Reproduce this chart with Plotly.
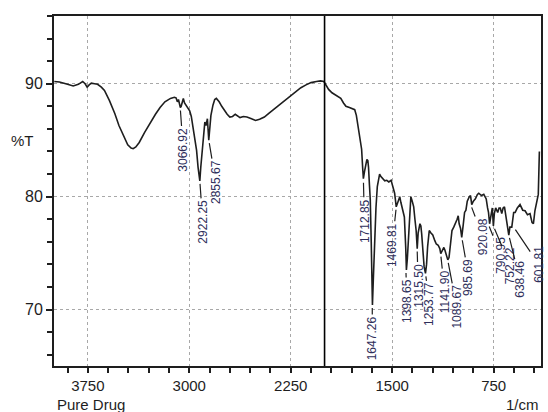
import plotly.graph_objects as go

# FTIR spectrum of the pure drug (wavenumber in 1/cm, transmittance in %T)
wavenumber = [
    3998, 3960, 3900, 3858, 3820, 3788, 3770, 3755, 3740, 3724, 3700, 3678, 3650, 3627,
    3590, 3550, 3520, 3485, 3455, 3430, 3415, 3395, 3370, 3330, 3293, 3250, 3216, 3180,
    3139, 3110, 3098, 3088, 3080, 3072, 3066, 3060, 3050, 3044, 3035, 3023, 3010, 2997,
    2985, 2972, 2958, 2946, 2935, 2922, 2915, 2905, 2895, 2885, 2876, 2866, 2856, 2848,
    2840, 2825, 2812, 2800, 2779, 2760, 2740, 2720, 2700, 2680, 2660, 2640, 2625, 2600,
    2574, 2540, 2510, 2480, 2445, 2410, 2368, 2330, 2291, 2250, 2214, 2175, 2137, 2100,
    2060, 2030, 2005, 1985, 1970, 1945, 1919, 1900, 1880, 1860, 1842, 1816, 1790, 1777,
    1765, 1752, 1739, 1726, 1718, 1713, 1705, 1695, 1687, 1680, 1675, 1668, 1662, 1655,
    1648, 1646, 1640, 1634, 1628, 1620, 1610, 1600, 1593, 1585, 1572, 1555, 1540, 1525,
    1508, 1495, 1482, 1470, 1462, 1457, 1444, 1436, 1431, 1420, 1410, 1400, 1395, 1388,
    1380, 1370, 1362, 1352, 1341, 1332, 1323, 1315, 1308, 1295, 1288, 1282, 1272, 1264,
    1254, 1246, 1238, 1226, 1215, 1200, 1185, 1174, 1160, 1148, 1141, 1128, 1118, 1110,
    1100, 1089, 1080, 1070, 1058, 1045, 1033, 1020, 1012, 1005, 995, 986, 975, 965,
    955, 945, 930, 921, 912, 900, 885, 870, 860, 840, 823, 805, 795, 788, 780, 770,
    760, 752, 745, 735, 720, 710, 701, 690, 680, 670, 660, 650, 638, 630, 616, 602,
    591, 575, 555, 535, 518, 500, 481, 466, 456, 445, 432, 420, 412, 403,
]
transmittance = [
    90.2, 90.15, 89.95, 89.8, 89.95, 90.2, 90.0, 89.7, 89.9, 90.05, 90.0, 89.95, 89.7, 89.4,
    88.5, 87.35, 86.3, 85.3, 84.6, 84.3, 84.25, 84.4, 84.8, 85.7, 86.5, 87.3, 87.9, 88.4,
    88.7, 88.8, 88.75, 88.4, 88.6, 88.1, 87.9, 88.0, 88.6, 88.7, 88.3, 88.1, 87.9, 87.6,
    87.1, 86.2, 85.2, 84.1, 82.6, 81.4, 82.6, 84.2, 85.6, 86.6, 86.3, 86.9, 85.0, 86.0,
    87.2, 88.1, 88.6, 88.7, 88.4, 88.0, 87.6, 87.3, 87.05, 87.1, 87.3, 87.1, 87.0, 87.1,
    87.05, 86.9, 86.75, 86.85, 87.05, 87.4, 87.8, 88.2, 88.6, 89.0, 89.35, 89.65, 89.9, 90.1,
    90.2, 90.25, 90.2, 89.85, 89.5, 89.2, 89.0, 88.85, 88.7, 88.3, 88.0, 87.9, 87.8, 87.7,
    87.2, 86.3, 85.3, 84.2, 82.5, 81.6, 82.2, 82.9, 83.3, 83.2, 82.6, 81.0, 79.7, 76.0,
    71.5, 70.4, 72.5, 75.0, 76.7, 79.0, 80.9, 81.7, 82.0, 81.8, 81.6, 81.4, 81.45, 81.3,
    81.45, 80.9, 80.3, 79.1, 79.4, 79.55, 80.0, 79.5, 79.2, 78.6, 78.2, 75.5, 73.5, 74.5,
    76.1, 78.5, 80.0, 79.6, 79.1, 78.0, 77.0, 75.4, 76.8, 77.6, 77.4, 76.7, 75.0, 73.8,
    73.2, 74.0, 75.6, 77.0, 76.8, 76.6, 76.1, 75.8, 75.7, 75.4, 74.95, 75.3, 75.5, 75.25,
    74.8, 74.4, 74.6, 76.0, 77.0, 77.3, 77.6, 78.0, 78.3, 77.6, 77.2, 76.4, 77.5, 78.6,
    78.8, 79.6, 80.0, 80.1, 79.3, 79.6, 79.8, 80.2, 80.3, 80.1, 80.2, 79.8, 79.0, 78.6,
    77.6, 78.5, 79.0, 77.4, 78.5, 79.0, 78.6, 79.0, 79.0, 78.5, 79.0, 79.1, 78.3, 77.5,
    76.6, 77.3, 77.3, 78.6, 78.6, 79.0, 79.3, 78.8, 78.75, 78.4, 78.5, 77.7, 77.6, 78.75,
    79.6, 80.2, 84.0,
]

# Labelled absorption peaks
peak_wn = [3066.92, 2922.25, 2855.67, 1712.85, 1647.26, 1469.81, 1398.65, 1315.50,
           1253.77, 1141.90, 1089.67, 985.69, 920.08, 790.95, 752.22, 638.46, 601.81]
peak_t = [87.9, 81.4, 85.0, 81.5, 70.4, 79.1, 73.5, 75.4,
          73.2, 74.95, 74.4, 76.4, 79.3, 77.6, 77.4, 76.6, 77.3]
peak_text = ["3066.92", "2922.25", "2855.67", "1712.85", "1647.26", "1469.81", "1398.65",
             "1315.50", "1253.77", "1141.90", "1089.67", "985.69", "920.08", "790.95",
             "752.22", "638.46", "601.81"]
# label offsets from the peak tip, in pixels (dx, dy)
label_offset = [(3, 42), (3, 41), (7, 42), (1, 41), (0, 33), (-4, 38), (1, 31), (1, 37),
                (4, 31), (4, 38), (9, 47), (7, 40), (12, 32), (13, 32), (17, 40), (11, 44),
                (25, 37)]

x_major = [3750, 3000, 2250, 1500, 750]
y_major = [70, 80, 90]

INK = "#1e1e1e"
LABEL_INK = "#2e2e5a"
FONT = "Liberation Sans, Arial, sans-serif"

fig = go.Figure()
fig.add_trace(go.Scatter(
    x=wavenumber, y=transmittance, mode="lines",
    line=dict(color=INK, width=1.6), hoverinfo="skip", showlegend=False,
))

# divider line at 2000 1/cm
fig.add_shape(type="line", xref="x", yref="paper", x0=2000, x1=2000, y0=0, y1=1,
              line=dict(color="black", width=1.6))

for wn, t, txt, (dx, dy) in zip(peak_wn, peak_t, peak_text, label_offset):
    fig.add_annotation(
        x=wn, y=t, xref="x", yref="y", text=txt, textangle=-90,
        showarrow=True, arrowhead=0, arrowwidth=1.2, arrowcolor=INK,
        ax=dx, ay=dy, standoff=3,
        font=dict(family=FONT, size=12, color=LABEL_INK),
    )

fig.add_annotation(x=0, y=0, xref="paper", yref="paper", xanchor="left", yanchor="top",
                   xshift=1, yshift=-28, text="Pure Drug", showarrow=False,
                   font=dict(family=FONT, size=15, color=INK))
fig.add_annotation(x=1, y=0, xref="paper", yref="paper", xanchor="right", yanchor="top",
                   yshift=-28, text="1/cm", showarrow=False,
                   font=dict(family=FONT, size=15, color=INK))
fig.add_annotation(x=0, y=(85.0 - 65) / 31, xref="paper", yref="paper", xanchor="right",
                   yanchor="middle", xshift=-18, text="%T", showarrow=False,
                   font=dict(family=FONT, size=15, color=INK))

grid = dict(showgrid=True, gridcolor="#a8a8a8", griddash="dot", gridwidth=1)
fig.update_xaxes(
    range=[4000, 400], tickvals=x_major, ticktext=[str(v) for v in x_major],
    ticks="outside", ticklen=5, tickwidth=1.5, tickcolor=INK,
    minor=dict(dtick=150, tick0=0, ticks="outside", ticklen=5, tickwidth=1.5,
               tickcolor=INK, showgrid=False),
    showline=True, linecolor=INK, linewidth=1.8, mirror=True, zeroline=False,
    tickfont=dict(family=FONT, size=15, color=INK), **grid,
)
fig.update_yaxes(
    range=[65, 96], tickvals=y_major, ticktext=[str(v) for v in y_major],
    ticks="outside", ticklen=6, tickwidth=1.5, tickcolor=INK,
    minor=dict(dtick=2, tick0=0, ticks="outside", ticklen=5, tickwidth=1.5,
               tickcolor=INK, showgrid=False),
    showline=True, linecolor=INK, linewidth=1.8, mirror=True, zeroline=False,
    tickfont=dict(family=FONT, size=16, color=INK), **grid,
)
fig.update_layout(
    width=548, height=412,
    margin=dict(l=54, r=5, t=16, b=46),
    paper_bgcolor="white", plot_bgcolor="white",
)

fig.write_html("out.html")
